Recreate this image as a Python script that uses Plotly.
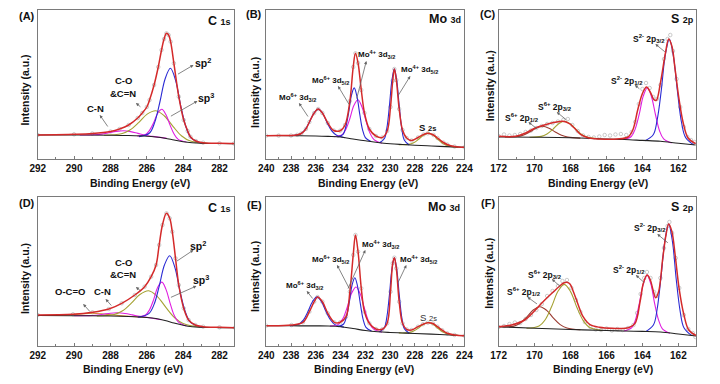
import plotly.graph_objects as go

FONT = "Liberation Sans, Arial, Helvetica, sans-serif"
RED = "#d42a2a"
BLUE = "#2b2bd4"
MAG = "#e01ee0"
OLIVE = "#a5a233"
BROWN = "#9a3a30"
ORANGE = "#d08a3c"
BLACK = "#222222"
GRAYPT = "#b4b4b4"

# ---------------- Panel A : C 1s ----------------
A_env_E = [292, 290, 289, 288, 287.5, 287, 286.5, 286.25, 286, 285.85, 285.6, 285.37, 285.19, 285.05, 284.92, 284.8, 284.69, 284.51, 284.24, 283.97, 283.75, 283.6, 283.3, 282.9, 282, 281.2]
A_env_h = [24, 24.7, 25.5, 27.5, 30, 34, 41, 46, 52, 59, 74, 92, 109, 120, 125.7, 124, 117.3, 95.7, 62.3, 39, 28, 22.3, 18, 16.3, 15.7, 15.5]
A_bg_E = [292, 290, 288, 287, 286, 285.5, 285, 284.5, 284, 283.5, 283, 282, 281.2]
A_bg_h = [24, 24, 23.8, 23.5, 22.8, 22, 20.8, 19, 17.3, 16.3, 15.8, 15.5, 15.4]
A_sp2_E = [282.98, 283.55, 283.84, 284.13, 284.41, 284.7, 284.99, 285.28, 285.56, 285.85, 286.43]
A_sp2_h = [15.8, 20.8, 31.8, 53, 78.2, 90.7, 80.3, 57, 36.9, 26, 22.4]
A_sp3_E = [283.82, 284.27, 284.5, 284.72, 284.95, 285.17, 285.4, 285.62, 285.85, 286.07, 286.52]
A_sp3_h = [17, 19.6, 25, 33.9, 44.4, 49.7, 45.8, 36.4, 28.6, 24.6, 23]
A_co_E = [282.65, 283.6, 284.08, 284.55, 285.03, 285.5, 285.98, 286.45, 286.93, 287.4, 288.35]
A_co_h = [15.6, 17.9, 23, 32.4, 43, 48.3, 44.9, 36.4, 29, 25.2, 23.8]
A_cn_E = [284.9, 285.69, 286.09, 286.49, 286.89, 287.29, 287.69, 288.09, 288.49, 288.89, 289.69]
A_cn_h = [20.6, 22.6, 23.8, 25.6, 27.4, 28.3, 27.6, 26.2, 24.9, 24.2, 24]

# ---------------- Panel B : Mo 3d ----------------
B_env_E = [240, 239, 238, 237.5, 237.17, 236.8, 236.52, 236.13, 235.81, 235.47, 235.03, 234.55, 234.03, 233.64, 233.25, 232.98, 232.8, 232.59, 232.33, 232.07, 231.68, 231.15, 230.63, 230.24, 229.97, 229.79, 229.66, 229.5, 229.27, 229.0, 228.67, 228.27, 227.75, 227.3, 226.96, 226.5, 226.18, 225.7, 225.39, 224.8, 224]
B_env_h = [23.3, 23.4, 23.5, 24.2, 25.5, 30, 37, 46, 50, 46, 36, 28.5, 28.3, 34, 58, 92, 105.7, 96, 69, 46, 30, 23, 21.5, 28, 52, 78.3, 90, 79, 50, 29, 21, 18.5, 21.5, 24.5, 25.7, 24, 21, 16.5, 14.5, 12.5, 11.7]
B_bg_E = [240, 238, 236, 235, 234, 233, 232, 231, 230, 229, 228, 227, 226, 225, 224]
B_bg_h = [23.5, 23.3, 23, 22.6, 22, 20, 18.2, 16.5, 15.3, 14.5, 13.8, 13.2, 12.6, 12.1, 11.7]
B_mo6a_E = [233.63, 234.35, 234.71, 235.08, 235.44, 235.8, 236.16, 236.53, 236.89, 237.25, 237.98]
B_mo6a_h = [21.3, 23.9, 28.1, 36.1, 45.5, 49.9, 45.7, 36.6, 28.8, 24.9, 23.3]
B_mo6b_E = [231.55, 232.0, 232.23, 232.45, 232.68, 232.9, 233.13, 233.35, 233.58, 233.8, 234.25]
B_mo6b_h = [17.4, 21.4, 29.4, 44.7, 62.7, 71.1, 63.4, 46.3, 32, 24.7, 22.1]
B_mo4a_E = [230.65, 231.3, 231.63, 231.95, 232.28, 232.6, 232.93, 233.25, 233.58, 233.9, 234.55]
B_mo4a_h = [15.7, 19.4, 25.9, 38.1, 52.3, 59.3, 53.5, 40.5, 29.6, 24.1, 22.3]
B_mo4b_E = [228.46, 228.86, 229.06, 229.26, 229.46, 229.66, 229.86, 230.06, 230.26, 230.46, 230.86]
B_mo4b_h = [14, 19.1, 30.3, 52.3, 78, 90.2, 78.4, 52.9, 31.3, 20.5, 16.2]
B_s2s_E = [224.5, 225.3, 225.7, 226.1, 226.5, 226.9, 227.3, 227.7, 228.1, 228.5, 229.3]
B_s2s_h = [11.8, 13.1, 15.1, 19.05, 23.6, 25.9, 23.9, 19.75, 16.2, 14.6, 14.3]

# ---------------- Panel C : S 2p ----------------
C_env_E = [172, 171.04, 170.5, 169.96, 169.41, 168.87, 168.42, 168.06, 167.79, 167.42, 166.97, 166.34, 165.44, 164.8, 164.53, 164.26, 163.99, 163.77, 163.54, 163.36, 163.23, 163.0, 162.72, 162.54, 162.36, 162.18, 161.96, 161.73, 161.46, 161.04]
C_env_h = [22.7, 22.7, 26, 31, 34.3, 36.7, 37.7, 35.3, 31, 24.3, 21, 20, 20, 22, 29.3, 49.3, 66, 72, 66, 59.3, 58.7, 76, 106, 120, 112.7, 89.3, 59.3, 36, 21, 15.3]
C_raw_E = [172, 171.7, 171.4, 171.1, 170.8, 170.5, 170.2, 169.9, 169.6, 169.3, 169, 168.7, 168.4, 168.15, 167.9, 167.6, 167.3, 167, 166.7, 166.4, 166.1, 165.8, 165.5, 165.2, 164.9, 164.6, 164.4, 164.2, 164.0, 163.8, 163.6, 163.4, 163.2, 163.0, 162.8, 162.6, 162.45, 162.3, 162.1, 161.9, 161.7, 161.5, 161.3, 161.1]
C_raw_h = [23, 24.5, 23.5, 24, 25, 27, 28.5, 31, 33, 35, 36, 37.5, 39, 40, 34, 28, 23.5, 22, 21.5, 22.5, 24, 23.5, 24.5, 25, 24, 27, 37, 55, 70, 76, 71, 62, 60, 74, 100, 120, 124, 108, 80, 52, 32, 22, 19, 17]
C_bg_E = [172, 170, 168, 166, 165, 164, 163, 162, 161.04]
C_bg_h = [22, 21.8, 21.3, 20, 19.5, 18.6, 17.7, 15.7, 14]
C_s2p32_E = [161.15, 161.6, 161.83, 162.05, 162.28, 162.5, 162.73, 162.95, 163.18, 163.4, 163.85]
C_s2p32_h = [14.2, 21.5, 37, 67.4, 103.1, 119.7, 103.8, 68.75, 39.1, 24.2, 18.3]
C_s2p12_E = [162.37, 162.82, 163.05, 163.27, 163.5, 163.72, 163.95, 164.17, 164.4, 164.62, 165.07]
C_s2p12_h = [16, 20.1, 28.3, 44, 62.5, 71.2, 63.1, 45.3, 30.1, 22.5, 19.5]
C_s6p32_E = [166.38, 167.03, 167.36, 167.68, 168.01, 168.33, 168.66, 168.98, 169.31, 169.63, 170.28]
C_s6p32_h = [20.2, 21.7, 24.3, 29.3, 35, 37.7, 35.2, 29.7, 25, 22.6, 21.8]
C_s6p12_E = [167.45, 168.15, 168.5, 168.85, 169.2, 169.55, 169.9, 170.25, 170.6, 170.95, 171.65]
C_s6p12_h = [20.9, 21.9, 23.7, 27, 30.85, 32.7, 31, 27.3, 24.1, 22.6, 22]

# ---------------- Panel D : C 1s ----------------
D_env_E = [292, 290.06, 288.99, 288.09, 287.38, 286.66, 286.12, 285.76, 285.49, 285.32, 285.14, 284.92, 284.74, 284.6, 284.42, 284.24, 283.97, 283.7, 283.34, 282.9, 282, 281.16]
D_env_h = [31, 31.7, 33.7, 37, 42.7, 51, 59.3, 69.3, 81, 101, 121, 132.7, 127.7, 114.3, 87.7, 61, 37.7, 26, 21, 19.3, 18.7, 18.3]
D_bg_E = [292, 290, 288, 287, 286, 285.5, 285, 284.5, 284, 283.5, 283, 282, 281.16]
D_bg_h = [30.5, 30.3, 30, 29.5, 28.5, 27.5, 25.5, 23, 20.7, 19.2, 18.7, 18.4, 18.3]
D_sp2_E = [282.97, 283.59, 283.88, 284.17, 284.45, 284.74, 285.03, 285.32, 285.6, 285.89, 286.47]
D_sp2_h = [18.7, 23.6, 34.1, 54.5, 78.2, 90.3, 81, 59.7, 41.6, 32.4, 28.9]
D_sp3_E = [283.82, 284.27, 284.5, 284.72, 284.95, 285.17, 285.4, 285.62, 285.85, 286.07, 286.52]
D_sp3_h = [20, 24.2, 30.9, 42.95, 56.9, 63.9, 58.8, 46.65, 36.2, 31, 29]
D_co_E = [283.05, 284.0, 284.48, 284.95, 285.43, 285.9, 286.38, 286.85, 287.33, 287.8, 288.75]
D_co_h = [18.7, 22.4, 28.5, 38.6, 49.7, 55.2, 51.5, 42.8, 35.2, 31.5, 30]
D_cn_E = [285.2, 286.0, 286.4, 286.8, 287.2, 287.6, 288.0, 288.4, 288.8, 289.2, 290.0]
D_cn_h = [26.2, 28.7, 29.7, 31.15, 32.5, 33.2, 32.8, 31.75, 30.8, 30.4, 30.3]
D_oco_E = [286.0, 287.0, 287.5, 288.0, 288.5, 289.0, 289.5, 290.0, 290.5, 291.0, 292.0]
D_oco_h = [28.5, 29.7, 30.4, 31.25, 32.2, 32.7, 32.3, 31.55, 31, 30.6, 30.5]

# ---------------- Panel E : Mo 3d ----------------
E_env_E = [240, 237.96, 237.04, 236.52, 236.13, 235.86, 235.47, 235.03, 234.5, 234.03, 233.56, 233.25, 232.98, 232.8, 232.59, 232.33, 232.07, 231.68, 231.15, 230.63, 230.24, 229.97, 229.79, 229.66, 229.5, 229.27, 229.0, 228.67, 228.27, 227.75, 227.35, 226.96, 226.55, 226.18, 225.8, 225.39, 224.8, 224]
E_env_h = [20.3, 21, 23.7, 34.3, 44.3, 49, 44.3, 32.7, 23.7, 23.7, 29.3, 54.3, 91, 111, 94.3, 57.7, 34.3, 22.7, 17, 16.7, 22.7, 54.3, 82.7, 88.3, 77.7, 44.3, 22.7, 16.7, 16, 19.3, 21.8, 23.3, 22.5, 19.3, 15.8, 12.7, 11, 10.3]
E_bg_E = [240, 238, 236, 235, 234, 233, 232, 231, 230, 229, 228, 226, 224]
E_bg_h = [20.3, 20.2, 20.1, 20, 19.3, 17.5, 15.5, 14.2, 13.5, 13, 12.5, 11.5, 10.3]
E_mo6a_E = [233.73, 234.45, 234.81, 235.18, 235.54, 235.9, 236.26, 236.63, 236.99, 237.35, 238.08]
E_mo6a_h = [18.9, 21.4, 26, 34.5, 44.4, 49.1, 44.5, 34.6, 26.2, 22, 20.2]
E_mo6b_E = [231.5, 231.95, 232.18, 232.4, 232.63, 232.85, 233.08, 233.3, 233.53, 233.75, 234.2]
E_mo6b_h = [14.9, 18.6, 26.6, 41.8, 59.7, 68.2, 60.5, 43.5, 29.1, 22, 19.4]
E_mo4a_E = [230.65, 231.35, 231.7, 232.05, 232.4, 232.75, 233.1, 233.45, 233.8, 234.15, 234.85]
E_mo4a_h = [13.8, 17.1, 23.7, 36.6, 51.6, 59, 53, 39.3, 27.7, 21.9, 19.9]
E_mo4b_E = [228.46, 228.86, 229.06, 229.26, 229.46, 229.66, 229.86, 230.06, 230.26, 230.46, 230.86]
E_mo4b_h = [12.7, 17.6, 28.75, 50.6, 76.2, 88.3, 76.4, 51, 29.35, 18.5, 14]
E_s2s_E = [224.5, 225.3, 225.7, 226.1, 226.5, 226.9, 227.3, 227.7, 228.1, 228.5, 229.3]
E_s2s_h = [10.6, 11.8, 13.7, 17.3, 21.45, 23.5, 21.85, 18.1, 14.9, 13.4, 13.1]

# ---------------- Panel F : S 2p ----------------
F_env_E = [172, 171.28, 170.55, 170.01, 169.65, 169.29, 168.93, 168.6, 168.38, 168.2, 168.02, 167.84, 167.57, 167.3, 166.94, 166.39, 165.67, 164.77, 164.41, 164.13, 163.95, 163.74, 163.56, 163.41, 163.27, 163.1, 162.87, 162.69, 162.54, 162.36, 162.18, 161.96, 161.69, 161.42, 161.0]
F_env_h = [19.3, 21, 26, 35, 42, 48.5, 54.5, 60, 63, 63.7, 61.7, 54.3, 41, 29.3, 21.7, 18.7, 17.7, 18.3, 22.7, 44.3, 62.7, 71, 66, 56, 48.3, 54.3, 87.7, 111, 122, 114.3, 91, 57.7, 31, 16, 10.3]
F_raw_E = [172, 171.7, 171.4, 171.1, 170.8, 170.5, 170.2, 169.9, 169.6, 169.3, 169, 168.7, 168.45, 168.2, 167.95, 167.7, 167.45, 167.2, 166.9, 166.6, 166.3, 166, 165.7, 165.4, 165.1, 164.8, 164.5, 164.3, 164.1, 163.9, 163.75, 163.55, 163.35, 163.2, 163.0, 162.8, 162.6, 162.5, 162.35, 162.15, 161.95, 161.7, 161.45, 161.2, 161.05]
F_raw_h = [19, 20, 22, 23.5, 23, 27, 31, 36, 42, 50, 55, 60, 65, 66, 58, 46, 34, 24, 19, 16.5, 16, 17.5, 15.5, 17, 16, 18, 21, 33, 52, 68, 74, 68, 54, 50, 68, 98, 120, 124, 113, 88, 58, 31, 17, 13, 9]
F_bg_E = [172, 170, 168, 166, 165, 164, 163, 162, 161]
F_bg_h = [19.3, 17.8, 16.5, 15.5, 15, 14.6, 14, 12, 10]
F_s2p32_E = [161.27, 161.69, 161.9, 162.12, 162.33, 162.54, 162.75, 162.97, 163.18, 163.39, 163.82]
F_s2p32_h = [10.6, 18.2, 34.7, 66.7, 104.4, 121.9, 105.1, 68.4, 37, 21, 14.4]
F_s2p12_E = [162.47, 162.89, 163.1, 163.32, 163.53, 163.74, 163.95, 164.17, 164.38, 164.59, 165.02]
F_s2p12_h = [12.8, 17.2, 25.9, 42.45, 61.9, 70.9, 62.1, 42.85, 26.6, 18.3, 15]
F_s6p32_E = [166.25, 166.95, 167.3, 167.65, 168.0, 168.35, 168.7, 169.05, 169.4, 169.75, 170.45]
F_s6p32_h = [15.6, 18.8, 25.65, 38.8, 54.4, 61.6, 54.7, 39.4, 26.55, 20.1, 17.7]
F_s6p12_E = [167.45, 168.2, 168.575, 168.95, 169.325, 169.7, 170.075, 170.45, 170.825, 171.2, 171.95]
F_s6p12_h = [16.2, 18, 21.4, 27.9, 35.6, 39.3, 36, 28.7, 22.5, 19.6, 19.2]

# tick ranges
C1S_RANGE = [292, 281.2]
MO_RANGE = [240, 224]
S_RANGE = [172, 161]
Y_RANGE = [0, 149]

W, H = 720, 384
COLS = [(30.5, 231.5), (264.5, 467.5), (502.5, 705)]
ROWS = [(10, 159), (197, 346)]

panels = [
    dict(col=0, row=0, xr=C1S_RANGE, raw=(A_env_E, A_env_h), env=(A_env_E, A_env_h),
         comps=[(A_cn_E, A_cn_h, MAG), (A_co_E, A_co_h, OLIVE), (A_sp3_E, A_sp3_h, MAG),
                (A_sp2_E, A_sp2_h, BLUE), (A_bg_E, A_bg_h, BLACK)]),
    dict(col=1, row=0, xr=MO_RANGE, raw=(B_env_E, B_env_h), env=(B_env_E, B_env_h),
         comps=[(B_s2s_E, B_s2s_h, OLIVE), (B_mo6a_E, B_mo6a_h, BLUE), (B_mo4a_E, B_mo4a_h, MAG),
                (B_mo6b_E, B_mo6b_h, BLUE), (B_mo4b_E, B_mo4b_h, BLUE), (B_bg_E, B_bg_h, BLACK)]),
    dict(col=2, row=0, xr=S_RANGE, raw=(C_raw_E, C_raw_h), env=(C_env_E, C_env_h),
         comps=[(C_s6p12_E, C_s6p12_h, BROWN), (C_s6p32_E, C_s6p32_h, OLIVE), (C_s2p12_E, C_s2p12_h, MAG),
                (C_s2p32_E, C_s2p32_h, BLUE), (C_bg_E, C_bg_h, BLACK)]),
    dict(col=0, row=1, xr=C1S_RANGE, raw=(D_env_E, D_env_h), env=(D_env_E, D_env_h),
         comps=[(D_oco_E, D_oco_h, ORANGE), (D_cn_E, D_cn_h, MAG), (D_co_E, D_co_h, OLIVE),
                (D_sp3_E, D_sp3_h, MAG), (D_sp2_E, D_sp2_h, BLUE), (D_bg_E, D_bg_h, BLACK)]),
    dict(col=1, row=1, xr=MO_RANGE, raw=(E_env_E, E_env_h), env=(E_env_E, E_env_h),
         comps=[(E_s2s_E, E_s2s_h, OLIVE), (E_mo6a_E, E_mo6a_h, BLUE), (E_mo4a_E, E_mo4a_h, MAG),
                (E_mo6b_E, E_mo6b_h, BLUE), (E_mo4b_E, E_mo4b_h, BLUE), (E_bg_E, E_bg_h, BLACK)]),
    dict(col=2, row=1, xr=S_RANGE, raw=(F_raw_E, F_raw_h), env=(F_env_E, F_env_h),
         comps=[(F_s6p12_E, F_s6p12_h, BROWN), (F_s6p32_E, F_s6p32_h, OLIVE), (F_s2p12_E, F_s2p12_h, MAG),
                (F_s2p32_E, F_s2p32_h, BLUE), (F_bg_E, F_bg_h, BLACK)]),
]

fig = go.Figure()
layout = dict(width=W, height=H, autosize=False, margin=dict(l=0, r=0, t=0, b=0),
              paper_bgcolor="white", plot_bgcolor="white", showlegend=False,
              font=dict(family=FONT, color="#111"))

for i, p in enumerate(panels, start=1):
    xa = "x" if i == 1 else f"x{i}"
    ya = "y" if i == 1 else f"y{i}"
    x0, x1 = COLS[p["col"]]
    y0, y1 = ROWS[p["row"]]
    layout["xaxis" if i == 1 else f"xaxis{i}"] = dict(
        domain=[x0 / W, x1 / W], range=p["xr"], anchor=ya,
        showgrid=False, zeroline=False, showline=True, mirror=True,
        linecolor="#7a7a7a", linewidth=1,
        tickmode="linear", tick0=0, dtick=2, ticks="inside", ticklen=3,
        tickcolor="#7a7a7a",
        tickfont=dict(family=FONT, size=10, color="#111", weight="bold"),
        minor=dict(ticks="inside", ticklen=2, dtick=1, tick0=0, tickcolor="#7a7a7a", showgrid=False),
    )
    layout["yaxis" if i == 1 else f"yaxis{i}"] = dict(
        domain=[1 - y1 / H, 1 - y0 / H], range=Y_RANGE, anchor=xa,
        showgrid=False, zeroline=False, showline=True, mirror=True,
        linecolor="#7a7a7a", linewidth=1, showticklabels=False, ticks="",
    )
    rx, ry = p["raw"]
    fig.add_trace(go.Scatter(x=rx, y=ry, xaxis=xa, yaxis=ya, mode="markers",
                             marker=dict(symbol="circle-open", size=3.5, color=GRAYPT, line=dict(width=0.7)),
                             hoverinfo="skip"))
    for cx, cy, col in p["comps"]:
        fig.add_trace(go.Scatter(x=cx, y=cy, xaxis=xa, yaxis=ya, mode="lines",
                                 line=dict(color=col, width=1.1, shape="spline", smoothing=1.0),
                                 hoverinfo="skip"))
    ex, ey = p["env"]
    fig.add_trace(go.Scatter(x=ex, y=ey, xaxis=xa, yaxis=ya, mode="lines",
                             line=dict(color=RED, width=1.5, shape="spline", smoothing=1.0),
                             hoverinfo="skip"))

fig.update_layout(**layout)

ann = []


def txt(px, py, text, size, color="#111", angle=0):
    ann.append(dict(x=px / W, y=1 - py / H, xref="paper", yref="paper", text=text,
                    showarrow=False, xanchor="center", yanchor="middle", textangle=angle,
                    font=dict(family=FONT, size=size, color=color)))


def arrow(head, tail):
    ann.append(dict(x=head[0] / W, y=1 - head[1] / H, xref="paper", yref="paper", text="",
                    showarrow=True, axref="pixel", ayref="pixel",
                    ax=tail[0] - head[0], ay=tail[1] - head[1],
                    arrowhead=2, arrowsize=0.8, arrowwidth=0.8, arrowcolor="#666666", standoff=0, startstandoff=0))


# panel letters
for lab, px, py in [("(A)", 19, 16), ("(B)", 252, 14), ("(C)", 492, 14),
                    ("(D)", 19, 203), ("(E)", 252, 205), ("(F)", 492, 203)]:
    txt(px, py, f"<b>{lab}</b>", 11)

# element titles
def elem(main, sub):
    return f"<b>{main} <span style='font-size:9px'>{sub}</span></b>"

for (m, s), px, py in [(("C", "1s"), 217, 21), (("Mo", "3d"), 448, 19), (("S", "2p"), 691, 19),
                       (("C", "1s"), 217, 208), (("Mo", "3d"), 447, 207), (("S", "2p"), 691, 207)]:
    txt(px, py, elem(m, s), 12.5)

# axis titles
for px, py in [(135, 183), (369, 183), (604, 183), (128, 369), (365, 369), (609, 369)]:
    txt(px, py, "<b>Binding Energy (eV)</b>", 10.5)
for px, py in [(17, 90), (253, 93), (494, 86), (17.5, 279), (253, 277), (492.5, 273)]:
    txt(px, py, "<b>Intensity (a.u.)</b>", 10.5, angle=-90)

# peak labels
def mo(ox, lvl):
    return f"<b>Mo<sup>{ox}</sup> 3d<sub>{lvl}</sub></b>"

def sp(ox, lvl):
    return f"<b>S<sup>{ox}</sup> 2p<sub>{lvl}</sub></b>"

labels = [
    ("<b>sp<sup>2</sup></b>", 200, 62, 10.5), ("<b>sp<sup>3</sup></b>", 203, 98, 10.5),
    ("<b>C-O</b>", 118, 80, 9.5), ("<b>&C=N</b>", 118, 93, 9.5), ("<b>C-N</b>", 90, 108, 9.5),
    (mo("6+", "3/2"), 297, 97, 8), (mo("6+", "5/2"), 330, 80, 8),
    (mo("4+", "3/2"), 377, 55, 8), (mo("4+", "5/2"), 421, 70, 8),
    ("<b>S <span style='font-size:7.5px'>2s</span></b>", 430, 127, 9.5),
    (sp("2-", "3/2"), 657, 38, 8.5), (sp("2-", "1/2"), 634, 80, 8.5),
    (sp("6+", "3/2"), 560, 107, 8.5), (sp("6+", "1/2"), 526, 117, 8.5),
    ("<b>sp<sup>2</sup></b>", 195, 245, 10.5), ("<b>sp<sup>3</sup></b>", 198, 279, 10.5),
    ("<b>C-O</b>", 118, 262, 9.5), ("<b>&C=N</b>", 118, 274, 9.5), ("<b>C-N</b>", 97, 291, 9.5),
    ("<b>O-C=O</b>", 64, 291, 9.5),
    (mo("6+", "3/2"), 304, 285, 8), (mo("6+", "5/2"), 330, 259, 8),
    (mo("4+", "3/2"), 381, 244, 8), (mo("4+", "5/2"), 420, 259, 8),
    (sp("2-", "3/2"), 658, 227, 8.5), (sp("2-", "1/2"), 636, 269, 8.5),
    (sp("6+", "3/2"), 550, 274, 8.5), (sp("6+", "1/2"), 528, 291, 8.5),
]
for t, px, py, s in labels:
    txt(px, py, t, s)
txt(431, 317, "S <span style='font-size:7.5px'>2s</span>", 9.5, color="#333")

arrows = [
    ((190, 65), (173, 75)), ((194, 101), (166, 117)), ((131, 103), (137, 108)), ((94, 115), (103, 128)),
    ((298, 103), (308, 118)), ((338, 86), (350, 106)), ((367, 61), (357, 100)), ((412, 76), (399, 97)),
    ((663, 44), (674, 53)), ((642, 85), (648, 90)), ((562, 112), (573, 121)), ((533, 122), (543, 130)),
    ((190, 250), (172, 262)), ((193, 286), (166, 298)), ((131, 287), (137, 292)), ((100, 299), (107, 307)),
    ((77, 304), (85, 313)),
    ((306, 291), (313, 300)), ((337, 265), (350, 290)), ((366, 250), (348, 290)), ((408, 265), (399, 284)),
    ((665, 234), (677, 244)), ((643, 275), (653, 284)), ((557, 279), (567, 288)), ((532, 297), (543, 305)),
]
for h, t in arrows:
    arrow(h, t)

fig.update_layout(annotations=ann)
fig.write_html("out.html", config={"displayModeBar": False, "staticPlot": True},
               post_script="document.body.style.margin='0';document.body.style.overflow='hidden';")
